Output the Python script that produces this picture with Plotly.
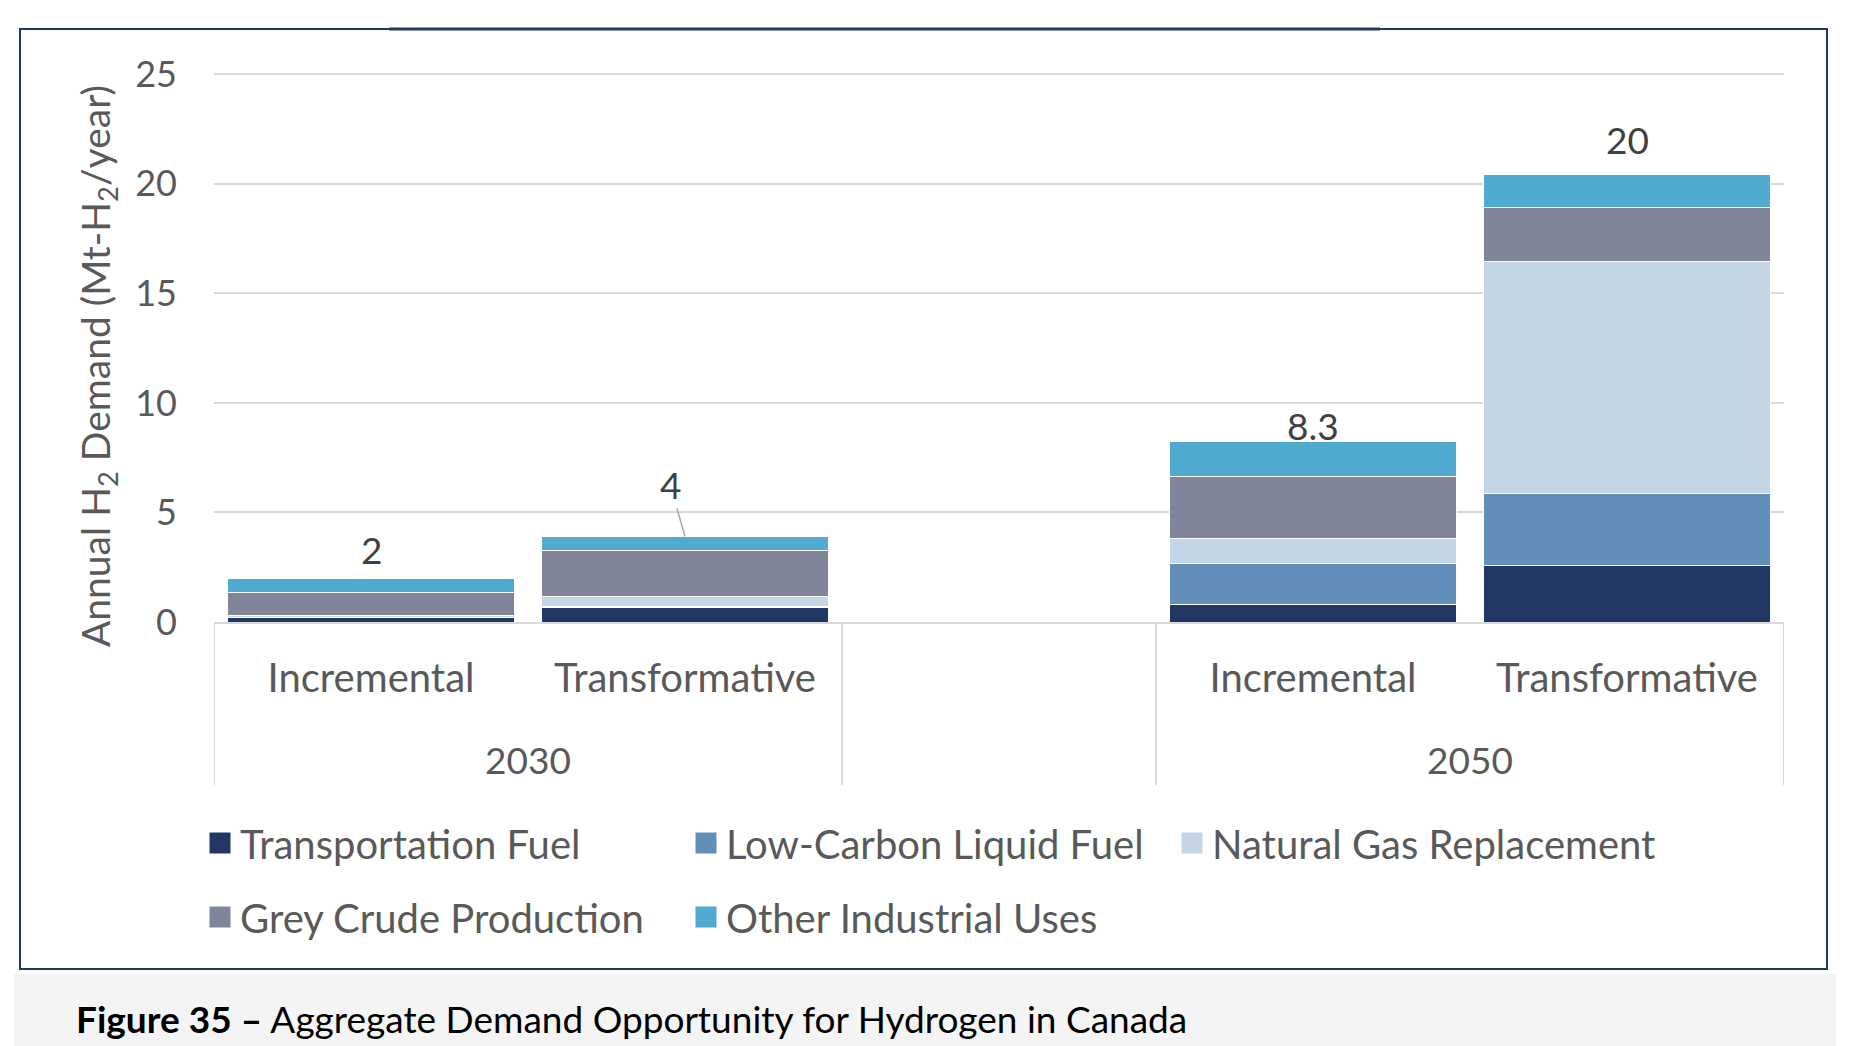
import plotly.graph_objects as go

# ---------------- data ----------------
years = ["2030", "2030", "2050", "2050"]
scenarios = ["Incremental", "Transformative", "Incremental", "Transformative"]
transport = [0.20, 0.67, 0.82, 2.58]
lclf = [0.02, 0.05, 1.84, 3.27]
natgas = [0.06, 0.46, 1.17, 10.59]
grey = [1.07, 2.09, 2.82, 2.47]
other = [0.62, 0.64, 1.60, 1.51]
total_labels = ["2", "4", "8.3", "20"]
series_names = ["Transportation Fuel", "Low-Carbon Liquid Fuel", "Natural Gas Replacement",
                "Grey Crude Production", "Other Industrial Uses"]
y_ticks = [0, 5, 10, 15, 20, 25]

# ---------------- style ----------------
colors = ["#213864", "#628fba", "#c4d6e6", "#818599", "#51aacf"]
FONT = "Lato"
GRAY_TXT = "#595959"
GRID = "#d9d9d9"
OFF = 8  # page body margin
W, H = 1850 - OFF, 1046 - OFF
PLOT_L, PLOT_R, PLOT_T, PLOT_B = 214 - OFF, 1784 - OFF, 73 - OFF, 622 - OFF
ML, MR, MT, MB = PLOT_L, W - PLOT_R, PLOT_T, H - PLOT_B
PW, PH = PLOT_R - PLOT_L, PLOT_B - PLOT_T
label_shift = [29, 0, 16, 35]


def px_x(px):
    return (px - OFF - PLOT_L) / PW


def px_y(py):
    return (PLOT_B - (py - OFF)) / PH


# positions: leave one empty slot between year groups
group_order = []
for yv in years:
    if yv not in group_order:
        group_order.append(yv)
positions = [i + group_order.index(yv) for i, yv in enumerate(years)]

series = [transport, lclf, natgas, grey, other]
totals = [sum(v) for v in zip(*series)]

fig = go.Figure()
for name, vals, col in zip(series_names, series, colors):
    fig.add_trace(go.Bar(
        x=positions, y=vals, name=name, marker=dict(color=col, line=dict(color="white", width=1)),
        showlegend=False, hoverinfo="y+name"))

for k, (name, col) in enumerate(zip(series_names, colors)):
    fig.add_trace(go.Scatter(
        x=[None], y=[None], mode="markers", name=name,
        marker=dict(symbol="square", size=16, color=col, line=dict(color=col, width=5)),
        legend="legend" if k < 3 else "legend2"))

# total labels
for i, (pos, tot, lab) in enumerate(zip(positions, totals, total_labels)):
    if lab == "4":
        fig.add_annotation(x=pos, y=tot, text=lab, showarrow=True, arrowhead=0, arrowwidth=1.5,
                           arrowcolor="#a6a6a6", ax=-15, ay=-52, standoff=0,
                           font=dict(family=FONT, size=37, color="#404040"))
    else:
        fig.add_annotation(x=pos, y=tot, text=lab, showarrow=False, yanchor="middle",
                           yshift=label_shift[i],
                           font=dict(family=FONT, size=37, color="#404040"))

# group labels and dividers
nslots = len(positions) + len(group_order) - 1
for g in group_order:
    gp = [p for p, yv in zip(positions, years) if yv == g]
    fig.add_annotation(x=sum(gp) / len(gp), y=px_y(759), yref="paper", text=g, showarrow=False,
                       yanchor="middle", font=dict(family=FONT, size=37, color=GRAY_TXT))
    for xe in (min(gp) - 0.5, max(gp) + 0.5):
        fig.add_shape(type="line", xref="x", yref="paper", x0=xe, x1=xe, y0=0, y1=px_y(785),
                      line=dict(color=GRID, width=2))

# y axis title
fig.add_annotation(x=px_x(98), y=px_y(366), xref="paper", yref="paper",
                   text="Annual H<sub>2</sub> Demand (Mt-H<sub>2</sub>/year)", textangle=-90,
                   showarrow=False, xanchor="center", yanchor="middle",
                   font=dict(family=FONT, size=39, color=GRAY_TXT))

# outer frame
fig.add_shape(type="rect", xref="paper", yref="paper", x0=px_x(20), x1=px_x(1827),
              y0=px_y(969), y1=px_y(29), line=dict(color="#1f3864", width=2), layer="below")
fig.add_shape(type="line", xref="paper", yref="paper", x0=px_x(389), x1=px_x(1380),
              y0=px_y(29), y1=px_y(29), line=dict(color="#1f3864", width=3))
# caption band
fig.add_shape(type="rect", xref="paper", yref="paper", x0=px_x(14), x1=px_x(1836),
              y0=px_y(1046), y1=px_y(974), line=dict(width=0), fillcolor="#f4f4f4", layer="below")
fig.add_annotation(x=px_x(74), y=px_y(1018), xref="paper", yref="paper",
                   text="<b>Figure 35 –</b> Aggregate Demand Opportunity for Hydrogen in Canada",
                   showarrow=False, xanchor="left", yanchor="middle",
                   font=dict(family=FONT, size=37, color="black"))

legend_common = dict(orientation="h", xanchor="left", yanchor="middle",
                     font=dict(family=FONT, size=40, color=GRAY_TXT),
                     entrywidth=441, entrywidthmode="pixels", itemwidth=30,
                     bgcolor="rgba(0,0,0,0)", traceorder="normal")

fig.update_layout(
    width=W, height=H,
    margin=dict(l=ML, r=MR, t=MT, b=MB),
    paper_bgcolor="white", plot_bgcolor="white",
    barmode="stack", bargap=0.086,
    font=dict(family=FONT, color=GRAY_TXT),
    xaxis=dict(range=[-0.5, nslots - 0.5], tickvals=positions, ticktext=scenarios,
               ticks="", showgrid=False, zeroline=False, showline=True, linecolor=GRID,
               linewidth=2, tickfont=dict(family=FONT, size=40, color=GRAY_TXT),
               ticklabelstandoff=20, fixedrange=True),
    yaxis=dict(range=[0, 25.06], tickvals=y_ticks, showgrid=True, gridcolor=GRID, gridwidth=2,
               zeroline=False, showline=False, ticks="",
               tickfont=dict(family=FONT, size=36, color=GRAY_TXT), ticklabelstandoff=36),
    legend=dict(x=px_x(200), y=px_y(843), **legend_common),
    legend2=dict(x=px_x(200), y=px_y(917), **legend_common),
    showlegend=True,
)

fig.write_html("out.html")
